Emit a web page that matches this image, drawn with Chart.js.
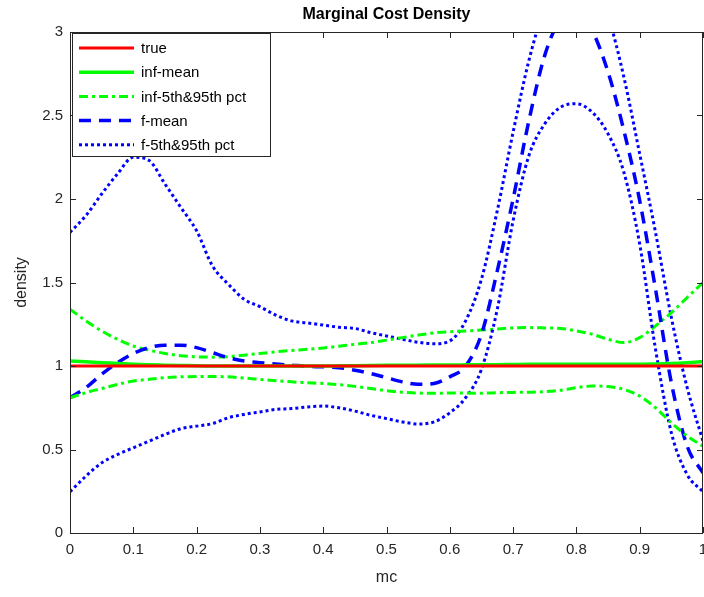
<!DOCTYPE html>
<html>
<head>
<meta charset="utf-8">
<script src="https://cdn.jsdelivr.net/npm/chart.js@4.4.0/dist/chart.umd.min.js"></script>
<style>
html, body { margin: 0; padding: 0; background: #fff; }
</style>
</head>
<body>
<canvas id="grafica" width="704" height="597"></canvas>
<script>
// Valores de x (mc)
const mc = [0, 0.025, 0.05, 0.075, 0.1, 0.125, 0.15, 0.175, 0.2, 0.225,
  0.25, 0.275, 0.3, 0.325, 0.35, 0.375, 0.4, 0.425, 0.45, 0.475,
  0.5, 0.525, 0.55, 0.575, 0.6, 0.625, 0.65, 0.675, 0.7, 0.725,
  0.75, 0.775, 0.8, 0.825, 0.85, 0.875, 0.9, 0.925, 0.95, 0.975, 1];

const verdadera = mc.map(() => 1);

const infMedia = [1.03, 1.025, 1.02, 1.015, 1.01, 1.007, 1.005, 1.003, 1.001, 1.0,
  1.0, 1.0, 1.0, 1.0, 1.0, 1.0, 1.0, 1.001, 1.002, 1.003,
  1.004, 1.005, 1.005, 1.006, 1.006, 1.007, 1.008, 1.008, 1.009, 1.01,
  1.01, 1.01, 1.01, 1.01, 1.01, 1.01, 1.01, 1.012, 1.015, 1.02, 1.027];

const inf5 = [0.81, 0.84, 0.865, 0.89, 0.91, 0.92, 0.93, 0.935, 0.937, 0.937,
  0.935, 0.928, 0.92, 0.912, 0.905, 0.9, 0.895, 0.888, 0.878, 0.865,
  0.852, 0.843, 0.838, 0.837, 0.838, 0.838, 0.837, 0.84, 0.842, 0.843,
  0.846, 0.855, 0.87, 0.88, 0.877, 0.86, 0.82, 0.75, 0.66, 0.58, 0.52];

const inf95 = [1.34, 1.27, 1.21, 1.16, 1.12, 1.095, 1.075, 1.062, 1.055, 1.053,
  1.056, 1.065, 1.075, 1.085, 1.093, 1.1, 1.108, 1.118, 1.13, 1.14,
  1.155, 1.17, 1.185, 1.198, 1.205, 1.21, 1.215, 1.222, 1.228, 1.23,
  1.228, 1.225, 1.21, 1.19, 1.16, 1.14, 1.17, 1.24, 1.32, 1.41, 1.5];

const fMedia = [0.81, 0.87, 0.95, 1.02, 1.075, 1.11, 1.125, 1.125, 1.11, 1.08,
  1.05, 1.03, 1.02, 1.012, 1.005, 0.998, 0.995, 0.99, 0.975, 0.955,
  0.93, 0.905, 0.89, 0.895, 0.935, 1.0, 1.19, 1.57, 2.0, 2.47,
  2.86, 3.08, 3.15, 3.01, 2.76, 2.41, 1.99, 1.46, 0.9, 0.52, 0.36];

const f5 = [0.247, 0.34, 0.42, 0.47, 0.51, 0.55, 0.59, 0.625, 0.64, 0.655,
  0.69, 0.71, 0.725, 0.74, 0.745, 0.755, 0.76, 0.75, 0.73, 0.705,
  0.685, 0.665, 0.653, 0.665, 0.72, 0.81, 0.98, 1.34, 1.87, 2.26,
  2.45, 2.55, 2.57, 2.52, 2.39, 2.16, 1.73, 1.1, 0.6, 0.35, 0.247];

const f95 = [1.8, 1.9, 2.03, 2.15, 2.25, 2.23, 2.09, 1.95, 1.81, 1.6,
  1.49, 1.4, 1.355, 1.305, 1.27, 1.258, 1.245, 1.232, 1.225, 1.2,
  1.18, 1.16, 1.142, 1.133, 1.15, 1.27, 1.52, 1.93, 2.4, 2.83,
  3.15, 3.35, 3.42, 3.35, 3.1, 2.73, 2.27, 1.8, 1.29, 0.87, 0.55];

const ticksX = [0, 0.1, 0.2, 0.3, 0.4, 0.5, 0.6, 0.7, 0.8, 0.9, 1];
const etiquetasX = ['0', '0.1', '0.2', '0.3', '0.4', '0.5', '0.6', '0.7', '0.8', '0.9', '1'];
const ticksY = [0, 0.5, 1, 1.5, 2, 2.5, 3];
const etiquetasY = ['0', '0.5', '1', '1.5', '2', '2.5', '3'];

const puntos = (ys) => mc.map((v, i) => ({ x: v, y: ys[i] }));

const serie = (label, ys, color, dash, ancho, enLeyenda = true) => ({
  label: label,
  data: puntos(ys),
  borderColor: color,
  backgroundColor: color,
  borderWidth: ancho,
  borderDash: dash,
  borderCapStyle: 'butt',
  pointRadius: 0,
  fill: false,
  cubicInterpolationMode: 'monotone',
  enLeyenda: enLeyenda
});

const fuente = '"Liberation Sans", Arial, Helvetica, sans-serif';

// Ejes estilo MATLAB, etiquetas y leyenda
const ejes = {
  id: 'ejes',
  afterDatasetsDraw(chart) {
    const { ctx, chartArea: a, scales: { x, y } } = chart;
    ctx.save();
    ctx.strokeStyle = '#262626';
    ctx.lineWidth = 1;
    ctx.beginPath();
    ticksX.forEach(v => {
      const px = Math.round(x.getPixelForValue(v)) + 0.5;
      ctx.moveTo(px, a.bottom); ctx.lineTo(px, a.bottom - 6);
      ctx.moveTo(px, a.top); ctx.lineTo(px, a.top + 6);
    });
    ticksY.forEach(v => {
      const py = Math.round(y.getPixelForValue(v)) + 0.5;
      ctx.moveTo(a.left, py); ctx.lineTo(a.left + 6, py);
      ctx.moveTo(a.right, py); ctx.lineTo(a.right - 6, py);
    });
    ctx.stroke();
    ctx.strokeRect(a.left + 0.5, a.top + 0.5, a.right - a.left - 1, a.bottom - a.top);

    ctx.fillStyle = '#262626';
    ctx.font = '15px ' + fuente;
    ctx.textAlign = 'center';
    ctx.textBaseline = 'top';
    ticksX.forEach((v, i) => ctx.fillText(etiquetasX[i], x.getPixelForValue(v), a.bottom + 9));
    ctx.textAlign = 'right';
    ctx.textBaseline = 'middle';
    ticksY.forEach((v, i) => ctx.fillText(etiquetasY[i], a.left - 7, y.getPixelForValue(v)));

    ctx.font = '16px ' + fuente;
    ctx.textAlign = 'center';
    ctx.fillText('mc', (a.left + a.right) / 2, 578);
    ctx.save();
    ctx.translate(22, (a.top + a.bottom) / 2);
    ctx.rotate(-Math.PI / 2);
    ctx.fillText('density', 0, 0);
    ctx.restore();

    ctx.fillStyle = '#000';
    ctx.font = 'bold 16px ' + fuente;
    ctx.fillText('Marginal Cost Density', (a.left + a.right) / 2, 15);

    // Leyenda
    const lx = 72.5, ly = 33.5, lw = 198, lh = 123;
    ctx.fillStyle = '#fff';
    ctx.fillRect(lx, ly, lw, lh);
    ctx.strokeStyle = '#262626';
    ctx.lineWidth = 1;
    ctx.strokeRect(lx, ly, lw, lh);
    ctx.font = '15px ' + fuente;
    ctx.textAlign = 'left';
    ctx.fillStyle = '#000';
    chart.data.datasets.filter(d => d.enLeyenda).forEach((d, i) => {
      const cy = 48 + i * 24.2;
      ctx.save();
      ctx.strokeStyle = d.borderColor;
      ctx.lineWidth = d.borderWidth;
      ctx.setLineDash(d.borderDash);
      ctx.beginPath();
      ctx.moveTo(79, cy); ctx.lineTo(134, cy);
      ctx.stroke();
      ctx.restore();
      ctx.fillText(d.label, 141, cy + 1);
    });
    ctx.restore();
  }
};

const $grafica = document.querySelector('#grafica');

new Chart($grafica, {
  type: 'line',
  data: {
    datasets: [
      serie('true', verdadera, '#ff0000', [], 3),
      serie('inf-mean', infMedia, '#00ff00', [], 3.5),
      serie('inf-5th&95th pct', inf5, '#00ff00', [9, 4, 3, 4], 3),
      serie('f-mean', fMedia, '#0000ff', [12, 8], 3.5),
      serie('f-5th&95th pct', f5, '#0000ff', [3, 3], 3),
      serie('inf-95th', inf95, '#00ff00', [9, 4, 3, 4], 3, false),
      serie('f-95th', f95, '#0000ff', [3, 3], 3, false)
    ]
  },
  options: {
    responsive: false,
    animation: false,
    devicePixelRatio: 1,
    layout: { padding: { left: 70, right: 1, top: 32, bottom: 64 } },
    plugins: { legend: { display: false }, title: { display: false }, tooltip: { enabled: false } },
    scales: {
      x: { type: 'linear', min: 0, max: 1, display: false },
      y: { type: 'linear', min: 0, max: 3, display: false }
    }
  },
  plugins: [ejes]
});
</script>
</body>
</html>
